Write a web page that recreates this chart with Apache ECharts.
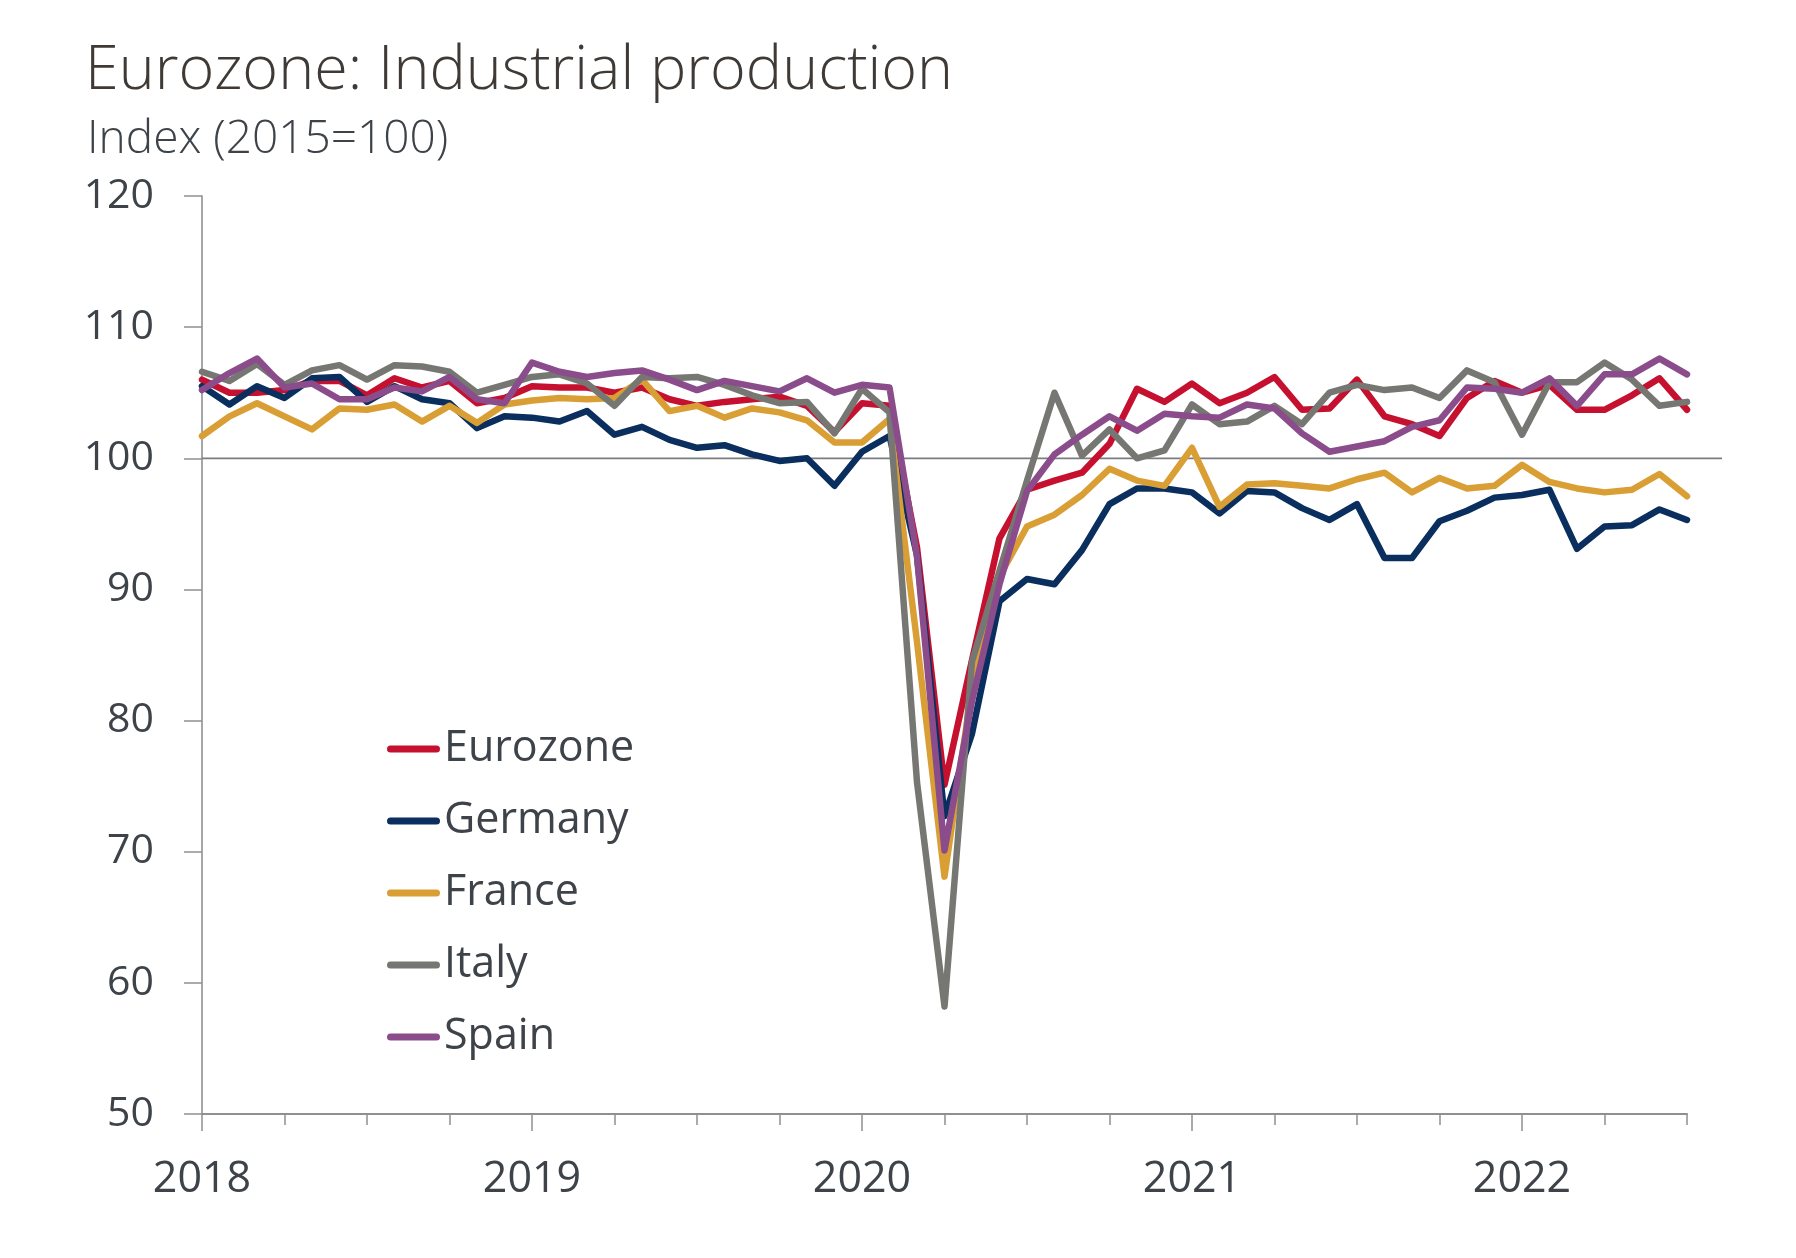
<!DOCTYPE html>
<html>
<head>
<meta charset="utf-8">
<script src="https://cdn.jsdelivr.net/npm/echarts@6/dist/echarts.min.js"></script>
<style>
html,body{margin:0;padding:0;background:#ffffff;}
#chart{width:1796px;height:1258px;}
</style>
</head>
<body>
<div id="chart"></div>
<script>
// Monthly, Jan 2018 .. Jul 2022
const startYear = 2018;
const nMonths = 55;
const months = [];
for (let i = 0; i < nMonths; i++) {
  const y = startYear + Math.floor(i / 12);
  const m = (i % 12) + 1;
  months.push(y + '-' + (m < 10 ? '0' + m : m));
}

const yTicks = [50, 60, 70, 80, 90, 100, 110, 120];
const referenceLevel = 100;

const eurozone = [106.0,105.0,105.0,105.2,105.9,105.9,104.8,106.1,105.4,105.9,104.2,104.6,
  105.5,105.4,105.4,105.0,105.4,104.5,104.0,104.3,104.5,104.7,104.0,102.0,
  104.2,104.0,93.2,75.1,84.6,93.9,97.6,98.3,98.9,101.1,105.3,104.3,
  105.7,104.2,105.0,106.2,103.7,103.8,106.0,103.2,102.6,101.7,104.6,105.9,
  105.0,105.6,103.7,103.7,104.8,106.1,103.7];

const germany = [105.5,104.1,105.5,104.6,106.1,106.2,104.3,105.5,104.5,104.2,102.3,103.2,
  103.1,102.8,103.6,101.8,102.4,101.4,100.8,101.0,100.3,99.8,100.0,97.9,
  100.5,101.7,92.6,72.7,79.0,89.1,90.8,90.4,93.0,96.5,97.7,97.7,
  97.4,95.8,97.5,97.4,96.2,95.3,96.5,92.4,92.4,95.2,96.0,97.0,
  97.2,97.6,93.1,94.8,94.9,96.1,95.3];

const france = [101.7,103.2,104.2,103.2,102.2,103.8,103.7,104.1,102.8,104.0,102.7,104.1,
  104.4,104.6,104.5,104.6,106.0,103.6,104.0,103.1,103.8,103.5,102.9,101.2,
  101.2,103.0,86.0,68.1,82.5,91.0,94.8,95.7,97.2,99.2,98.3,97.9,
  100.8,96.3,98.0,98.1,97.9,97.7,98.4,98.9,97.4,98.5,97.7,97.9,
  99.5,98.2,97.7,97.4,97.6,98.8,97.1];

const italy = [106.6,105.9,107.2,105.6,106.7,107.1,106.0,107.1,107.0,106.6,105.0,105.6,
  106.2,106.4,105.7,104.0,106.2,106.1,106.2,105.6,104.8,104.2,104.3,101.9,
  105.3,103.5,75.3,58.2,84.5,91.4,98.3,105.0,100.2,102.2,100.0,100.6,
  104.1,102.6,102.8,104.0,102.6,105.0,105.6,105.2,105.4,104.6,106.7,105.8,
  101.8,105.8,105.8,107.3,106.0,104.0,104.3];

const spain = [105.2,106.5,107.6,105.4,105.7,104.5,104.5,105.4,105.1,106.2,104.5,104.2,
  107.3,106.6,106.2,106.5,106.7,106.0,105.2,105.9,105.5,105.1,106.1,105.0,
  105.6,105.4,92.5,70.1,81.5,90.4,97.5,100.3,101.8,103.2,102.1,103.4,
  103.2,103.1,104.1,103.8,101.9,100.5,100.9,101.3,102.4,102.9,105.4,105.3,
  105.0,106.1,104.0,106.4,106.4,107.6,106.4];

const seriesNames = ['Eurozone', 'Germany', 'France', 'Italy', 'Spain'];
const seriesData = [eurozone, germany, france, italy, spain];
const seriesColors = ['#c5112f', '#0a2f5e', '#d99f35', '#767672', '#8b4c8c'];

const FONT = '"Open Sans", "Noto Sans", sans-serif';
const TEXT = '#3d4349';

const chart = echarts.init(document.getElementById('chart'), null, {renderer: 'canvas'});

const gridLeft = 202, gridRight = 109, gridTop = 196, gridBottom = 144;

const series = seriesNames.map((name, i) => ({
  name: name,
  type: 'line',
  xAxisIndex: 0,
  yAxisIndex: 0,
  data: seriesData[i],
  color: seriesColors[i],
  showSymbol: false,
  symbol: 'none',
  lineStyle: {width: 6.5, color: seriesColors[i], cap: 'round', join: 'round'},
  z: 3,
  animation: false
}));

// reference line at 100 spanning slightly past the plot
series.unshift({
  name: 'ref',
  type: 'line',
  xAxisIndex: 2,
  yAxisIndex: 1,
  data: [[0, referenceLevel], [1, referenceLevel]],
  showSymbol: false,
  symbol: 'none',
  lineStyle: {width: 1.8, color: '#7a7d80'},
  silent: true,
  z: 1,
  animation: false
});

const option = {
  backgroundColor: '#ffffff',
  animation: false,
  title: [
    {text: 'Eurozone: Industrial production', left: 80, top: 36,
     textStyle: {fontFamily: FONT, fontWeight: 300, fontSize: 61, color: '#3f3a36'}},
    {text: 'Index (2015=100)', left: 82, top: 112,
     textStyle: {fontFamily: FONT, fontWeight: 300, fontSize: 46, color: '#3d4349'}}
  ],
  legend: {
    data: seriesNames,
    orient: 'vertical',
    left: 382,
    top: 719,
    itemWidth: 53,
    itemHeight: 7,
    itemGap: 22,
    icon: 'path://M3.5,0 L49.5,0 A3.5,3.5 0 0 1 49.5,7 L3.5,7 A3.5,3.5 0 0 1 3.5,0 Z',
    textStyle: {fontFamily: FONT, fontSize: 43, color: TEXT, lineHeight: 50, padding: [0, 0, 0, -1]},
    selectedMode: false
  },
  grid: [
    {left: gridLeft, right: gridRight, top: gridTop, bottom: gridBottom, containLabel: false},
    {left: gridLeft, right: 74, top: gridTop, bottom: gridBottom, containLabel: false}
  ],
  xAxis: [
    {
      type: 'category', gridIndex: 0, data: months, boundaryGap: false,
      axisLine: {show: true, lineStyle: {color: '#8e9093', width: 2.2}},
      axisTick: {show: true, interval: 2, length: 11, lineStyle: {color: '#8e9093', width: 1.5}},
      axisLabel: {
        interval: 11, margin: 44,
        formatter: v => v.slice(0, 4),
        fontFamily: FONT, fontSize: 43, color: TEXT
      },
      splitLine: {show: false}
    },
    {
      type: 'category', gridIndex: 0, data: months, boundaryGap: false, position: 'bottom',
      axisLine: {show: false},
      axisTick: {show: true, interval: 11, length: 17, lineStyle: {color: '#8e9093', width: 1.5}},
      axisLabel: {show: false},
      splitLine: {show: false}
    },
    {
      type: 'value', gridIndex: 1, min: 0, max: 1, show: false
    }
  ],
  yAxis: [
    {
      type: 'value', gridIndex: 0, min: yTicks[0], max: yTicks[yTicks.length - 1], interval: 10,
      axisLine: {show: true, lineStyle: {color: '#8e9093', width: 1.6}},
      axisTick: {show: true, length: 18, lineStyle: {color: '#8e9093', width: 1.5}},
      axisLabel: {margin: 48, fontFamily: FONT, fontSize: 41, color: TEXT},
      splitLine: {show: false}
    },
    {
      type: 'value', gridIndex: 1, min: yTicks[0], max: yTicks[yTicks.length - 1], show: false
    }
  ],
  series: series
};

chart.setOption(option);
</script>
</body>
</html>
